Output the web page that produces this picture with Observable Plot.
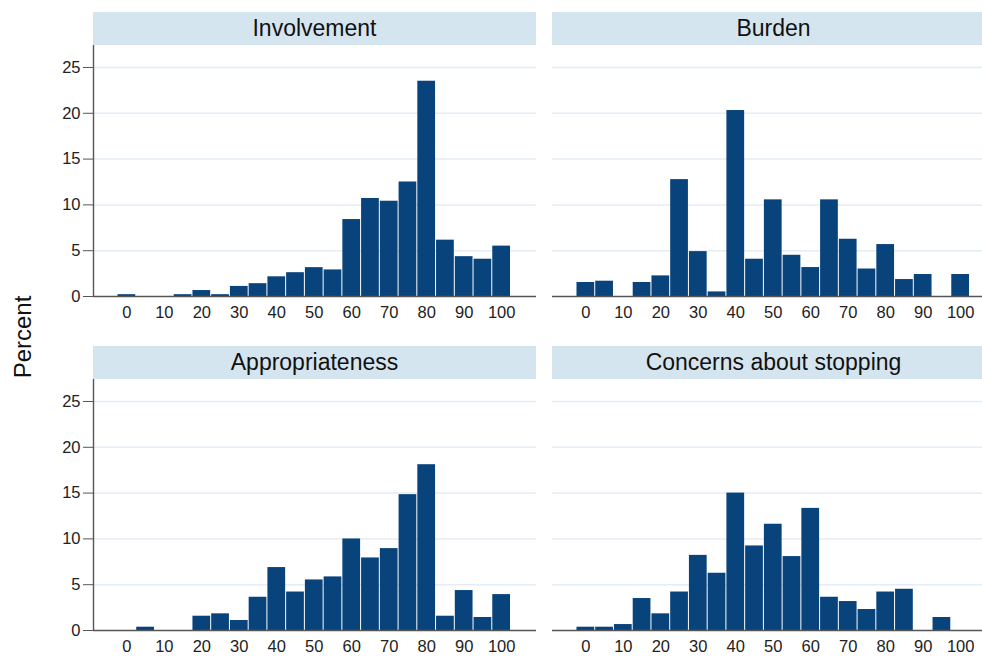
<!DOCTYPE html>
<html>
<head>
<meta charset="utf-8">
<script src="https://cdn.jsdelivr.net/npm/d3@7"></script>
<script src="https://cdn.jsdelivr.net/npm/@observablehq/plot@0.6"></script>
<style>
  html, body { margin: 0; padding: 0; background: #fff; overflow: hidden; }
  #chart { position: relative; width: 982px; height: 657px; overflow: hidden; font-family: "Liberation Sans", Arial, sans-serif; }
  .strip { position: absolute; height: 33.3px; background: #d5e5ef; color: #111; font-size: 23px; line-height: 32px; text-align: center; white-space: nowrap; }
  .panel { position: absolute; }
  .ylabel { position: absolute; left: 23px; top: 337px; transform: translate(-50%, -50%) rotate(-90deg); font-size: 24px; color: #111; white-space: nowrap; }
</style>
</head>
<body>
<div id="chart"></div>
<script>
// Bin centres (bin width 5)
const bins = [0, 5, 10, 15, 20, 25, 30, 35, 40, 45, 50, 55, 60, 65, 70, 75, 80, 85, 90, 95, 100];
const xTicks = [0, 10, 20, 30, 40, 50, 60, 70, 80, 90, 100];
const yTicks = [0, 5, 10, 15, 20, 25];

const panelTitles = ["Involvement", "Burden", "Appropriateness", "Concerns about stopping"];

// Percent per bin
const involvement =     [0.2, 0, 0, 0.2, 0.65, 0.2, 1.1, 1.4, 2.15, 2.6, 3.15, 2.9, 8.4, 10.7, 10.4, 12.5, 23.5, 6.15, 4.35, 4.07, 5.5];
const burden =          [1.53, 1.67, 0, 1.53, 2.25, 12.76, 4.9, 0.5, 20.3, 4.07, 10.55, 4.5, 3.16, 10.55, 6.25, 3.0, 5.67, 1.85, 2.4, 0, 2.4];
const appropriateness = [0, 0.36, 0, 0, 1.56, 1.82, 1.09, 3.63, 6.87, 4.2, 5.52, 5.85, 9.99, 7.92, 8.94, 14.83, 18.1, 1.56, 4.36, 1.42, 3.92];
const concerns =        [0.36, 0.36, 0.65, 3.49, 1.82, 4.2, 8.2, 6.25, 15.0, 9.23, 11.6, 8.07, 13.33, 3.63, 3.16, 2.29, 4.2, 4.5, 0, 1.42, 0];

const seriesList = [involvement, burden, appropriateness, concerns];

const BAR = "#08437c";
const AXIS = "#555";
const GRID = "#e4edf5";
const FONT = '"Liberation Sans", Arial, sans-serif';
const XMIN = -8.9, XMAX = 109.3;
const PLOT_W = 443, PLOT_H = 251, LEFT_M = 93, BOTTOM_M = 32;

function makePanel(values, isLeft) {
  const data = bins.map((b, i) => ({bin: b, pct: values[i]})).filter(d => d.pct > 0);
  const yScale = {domain: [0, 27.4]};
  if (!isLeft) yScale.axis = null;
  return Plot.plot({
    width: PLOT_W + (isLeft ? LEFT_M : 0),
    height: PLOT_H + BOTTOM_M,
    marginLeft: isLeft ? LEFT_M : 0,
    marginRight: 0,
    marginTop: 0,
    marginBottom: BOTTOM_M,
    style: {background: "transparent", fontFamily: FONT, fontSize: "16.5px", color: "#222", overflow: "visible", maxWidth: "none"},
    x: {domain: [XMIN, XMAX]},
    y: yScale,
    marks: [
      Plot.gridY(yTicks.slice(1), {stroke: GRID, strokeOpacity: 1, strokeWidth: 1.5}),
      Plot.rectY(data, {x1: d => d.bin - 2.5, x2: d => d.bin + 2.5, y: "pct", fill: BAR, insetLeft: 0.5, insetRight: 0.5}),
      Plot.axisX(xTicks, {tickSize: 0, tickPadding: 10, label: null, fontSize: 16.5, fill: "#222"}),
      isLeft ? Plot.axisY(yTicks, {tickSize: 10, tickPadding: 3, label: null, stroke: AXIS, fontSize: 16.5, fill: "#222"}) : null,
      Plot.ruleY([0], {stroke: AXIS, strokeWidth: 1.4}),
      isLeft ? Plot.ruleX([XMIN], {stroke: AXIS, strokeWidth: 1.4}) : null
    ]
  });
}

const chart = document.getElementById("chart");
const layout = [
  {left: 0, stripLeft: 93, stripTop: 11.7, plotTop: 45, isLeft: true},
  {left: 552, stripLeft: 552, stripTop: 11.7, plotTop: 45, isLeft: false},
  {left: 0, stripLeft: 93, stripTop: 345.7, plotTop: 379, isLeft: true},
  {left: 552, stripLeft: 552, stripTop: 345.7, plotTop: 379, isLeft: false}
];

layout.forEach((L, i) => {
  const strip = document.createElement("div");
  strip.className = "strip";
  strip.style.left = L.stripLeft + "px";
  strip.style.top = L.stripTop + "px";
  strip.style.width = PLOT_W + "px";
  strip.textContent = panelTitles[i];
  chart.appendChild(strip);

  const wrap = document.createElement("div");
  wrap.className = "panel";
  wrap.style.left = L.left + "px";
  wrap.style.top = L.plotTop + "px";
  wrap.appendChild(makePanel(seriesList[i], L.isLeft));
  chart.appendChild(wrap);
});

const yl = document.createElement("div");
yl.className = "ylabel";
yl.textContent = "Percent";
chart.appendChild(yl);
</script>
</body>
</html>
